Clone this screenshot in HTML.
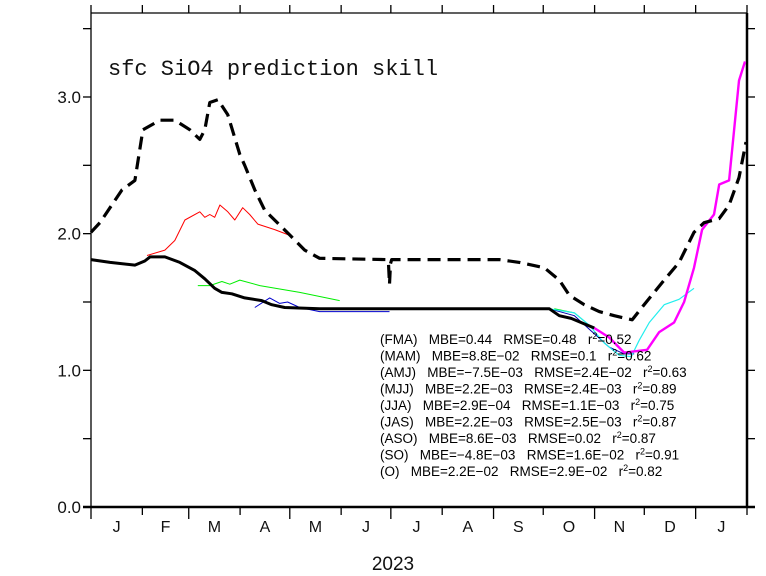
<!DOCTYPE html>
<html><head><meta charset="utf-8"><style>
html,body{margin:0;padding:0;background:#fff;}
svg{display:block;}
text{font-family:"Liberation Sans",sans-serif;}
#stats text{white-space:pre;}
</style></head><body>
<svg id="chart" width="766" height="576" viewBox="0 0 766 576" xmlns="http://www.w3.org/2000/svg">
<rect width="766" height="576" fill="#fff"/>
<g id="axes"></g>
<g id="series"></g>
<text x="108" y="75" style="font-family:'Liberation Mono',monospace;font-size:22px" fill="#111">sfc SiO4 prediction skill</text>
<text x="393" y="570" text-anchor="middle" style="font-size:19px" fill="#111">2023</text>
<g id="stats" style="font-size:13.5px" fill="#000"></g>
</svg>
<script>
const NS='http://www.w3.org/2000/svg';
const X0=91,X1=747,Y0=507,DAYS=396,YPX=136.67;
function xs(d){return X0+d*(X1-X0)/DAYS;}
function ys(v){return Y0-v*YPX;}
const monthLabels=['J','F','M','A','M','J','J','A','S','O','N','D','J'];
const monthDays=[31,28,31,30,31,30,31,31,30,31,30,31,31];
const yTicks=[0,0.5,1,1.5,2,2.5,3,3.5];
const yLabels=['0.0','','1.0','','2.0','','3.0',''];

const solidDays=[0,11.5,26.5,32.5,35.6,44.6,53.6,62.7,68.7,74.7,79,85,92.8,103.1,109.1,116.9,138,276.7,282.7,289.9,297.8,303.8];
const solidVals=[1.81,1.79,1.77,1.80,1.83,1.83,1.79,1.73,1.67,1.60,1.57,1.56,1.53,1.51,1.48,1.46,1.45,1.45,1.40,1.38,1.34,1.31];
const dashDays=[0,5.4,18.7,26.5,31.3,41.6,50.6,59.7,65.7,68.7,71.7,76.6,82.6,89.8,92.8,98.9,104.9,120,129,138,178.5,179.6,180.2,180.8,181.5,246.5,258.6,273.7,282.7,288.7,297.8,306.8,315.9,326.7,333.9,346,355,364,370.1,379.2,385.2,391.2,395.4];
const dashVals=[2.01,2.08,2.32,2.39,2.76,2.83,2.83,2.76,2.69,2.76,2.96,2.98,2.87,2.58,2.50,2.32,2.17,1.99,1.88,1.82,1.81,1.78,1.63,1.78,1.81,1.81,1.79,1.75,1.66,1.55,1.48,1.43,1.40,1.37,1.48,1.66,1.79,2.01,2.08,2.11,2.21,2.41,2.67];
const redDays=[33.8,44.6,50.6,56.7,65.7,68.7,71.7,74.7,77.8,82.6,86.8,91.6,95.8,100.7,110.9,119.4];
const redVals=[1.84,1.88,1.95,2.10,2.16,2.12,2.14,2.12,2.21,2.16,2.10,2.19,2.14,2.07,2.03,1.99];
const greenDays=[64.5,71.7,79,83.8,89.8,101.9,126,150.1];
const greenVals=[1.62,1.62,1.65,1.63,1.66,1.62,1.57,1.51];
const green2Days=[279.7,291.8,297.8];
const green2Vals=[1.45,1.42,1.36];
const blueDays=[98.9,107.9,113.9,118.7,126,138,180.2];
const blueVals=[1.46,1.53,1.49,1.50,1.46,1.43,1.43];
const blue2Days=[276.7,291.8,300.8,312.8,321.9,327.9];
const blue2Vals=[1.45,1.40,1.30,1.17,1.12,1.12];
const cyanDays=[276.7,291.8,300.8,309.8,318.9,326.1,330.9,337,346,355,364];
const cyanVals=[1.45,1.42,1.33,1.20,1.11,1.10,1.22,1.35,1.48,1.52,1.60];
const magDays=[303.8,312.8,321.9,335.7,343,352,358,364,368.9,376.1,379.2,385.2,391.2,394.8];
const magVals=[1.31,1.24,1.13,1.15,1.28,1.35,1.50,1.75,2.03,2.14,2.36,2.39,3.12,3.26];

const statLines=[
['(FMA)','MBE=0.44','RMSE=0.48','0.52'],
['(MAM)','MBE=8.8E\u221202','RMSE=0.1','0.62'],
['(AMJ)','MBE=\u22127.5E\u221203','RMSE=2.4E\u221202','0.63'],
['(MJJ)','MBE=2.2E\u221203','RMSE=2.4E\u221203','0.89'],
['(JJA)','MBE=2.9E\u221204','RMSE=1.1E\u221203','0.75'],
['(JAS)','MBE=2.2E\u221203','RMSE=2.5E\u221203','0.87'],
['(ASO)','MBE=8.6E\u221203','RMSE=0.02','0.87'],
['(SO)','MBE=\u22124.8E\u221203','RMSE=1.6E\u221202','0.91'],
['(O)','MBE=2.2E\u221202','RMSE=2.9E\u221202','0.82']];

function el(tag,attrs,parent){const e=document.createElementNS(NS,tag);for(const k in attrs)e.setAttribute(k,attrs[k]);parent.appendChild(e);return e;}
const axes=document.getElementById('axes');
let e;
e=el('line',{x1:X0,y1:13,x2:X0,y2:Y0,stroke:'#000','stroke-width':1.3},axes);


e=el('line',{x1:X1,y1:13,x2:X1,y2:Y0,stroke:'#000','stroke-width':2.5},axes);


e=el('line',{x1:X0,y1:13,x2:X1,y2:13,stroke:'#000','stroke-width':1.3},axes);


e=el('line',{x1:83,y1:Y0,x2:X1+8,y2:Y0,stroke:'#000','stroke-width':2.5},axes);


yTicks.forEach((v,i)=>{
  const y=ys(v);
  let t=el('line',{x1:X0-8,y1:y,x2:X0,y2:y,stroke:'#000','stroke-width':1.3},axes);
  
  
  t=el('line',{x1:X1,y1:y,x2:X1+8,y2:y,stroke:'#000','stroke-width':1.3},axes);
  
  
  if(yLabels[i]){
    const tx=el('text',{x:X0-10,y:y+6,'text-anchor':'end','font-size':17,fill:'#111'},axes);
    tx.textContent=yLabels[i];
    
    
  }
});
let cum=0;
for(let i=0;i<=monthDays.length;i++){
  const x=xs(cum);
  let t=el('line',{x1:x,y1:Y0,x2:x,y2:Y0+(i%2==0?12:8),stroke:'#000','stroke-width':1.3},axes);
  
  
  t=el('line',{x1:x,y1:13,x2:x,y2:5,stroke:'#000','stroke-width':1.3},axes);
  
  
  if(i<monthDays.length){
    const tx=el('text',{x:xs(cum+monthDays[i]/2),y:532,'text-anchor':'middle','font-size':16,fill:'#111'},axes);
    tx.textContent=monthLabels[i];
    
    
    cum+=monthDays[i];
  }
}
const ser=document.getElementById('series');
function line(days,vals,color,w,name,dash){
  let d='';
  days.forEach((dd,i)=>{d+=(i?'L':'M')+xs(dd).toFixed(1)+' '+ys(vals[i]).toFixed(1);});
  const p=el('path',{d:d,fill:'none',stroke:color,'stroke-width':w,'stroke-linejoin':'round'},ser);
  if(dash)p.setAttribute('stroke-dasharray',dash);
  
  
}
line(redDays,redVals,'#f00',1,'red-series');
line(greenDays,greenVals,'#0e0',1,'green-series');
line(green2Days,green2Vals,'#0e0',1,'green-series-late');
line(blueDays,blueVals,'#00c',1,'blue-series');
line(blue2Days,blue2Vals,'#00a',1,'blue-series-late');
line(cyanDays,cyanVals,'#2ee',1.2,'cyan-series');
line(magDays,magVals,'#f0f',2.4,'magenta-series');
line(solidDays,solidVals,'#000',3,'observed-line');
line(dashDays,dashVals,'#000',3.2,'dashed-line','13,7');
const st=document.getElementById('stats');
statLines.forEach((s,i)=>{
  const t=el('text',{x:380,y:344+i*16.5},st);
  
  
  t.textContent=s[0]+'\u00a0\u00a0\u00a0'+s[1]+'\u00a0\u00a0\u00a0'+s[2]+'\u00a0\u00a0\u00a0r';
  const sup=el('tspan',{dy:-5,'font-size':9},t);sup.textContent='2';
  const rest=el('tspan',{dy:5},t);rest.textContent='=' + s[3];
});
</script>
</body></html>
